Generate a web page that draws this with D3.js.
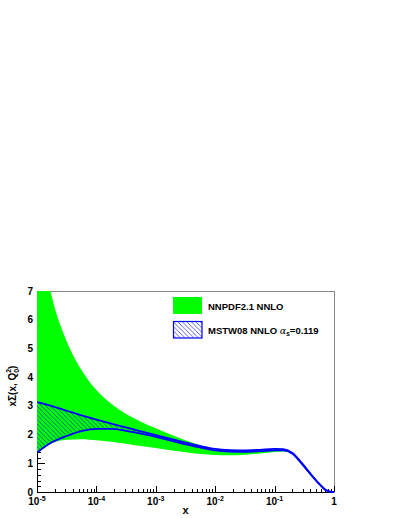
<!DOCTYPE html>
<html lang="en">
<head>
<meta charset="utf-8" />
<title>Singlet PDF</title>
<script src="https://cdn.jsdelivr.net/npm/d3@7"></script>
<style>
  body{ margin:0; background:#fff; font-family:"Liberation Sans", Arial, sans-serif; }
  text{ font-weight:bold; fill:#000; }
</style>
</head>
<body>
<div id="chart"></div>
<script>
  var width = 401, height = 518;

  // x grid (log spaced)
  var xs = [1e-5, 1.41e-5, 1.78e-5, 3.16e-5, 5.62e-5, 1e-4, 1.78e-4, 3.16e-4, 5.62e-4,
            1e-3, 1.78e-3, 3.16e-3, 5.62e-3, 1e-2, 1.78e-2, 3.16e-2, 5.62e-2, 0.1,
            0.141, 0.2, 0.282, 0.398, 0.562, 0.708, 0.891, 1];

  var nnUpper = [9.6, 7.8, 6.8, 5.25, 4.25, 3.55, 3.07, 2.72, 2.45, 2.22, 2.0, 1.8, 1.63,
                 1.51, 1.47, 1.46, 1.47, 1.5, 1.49, 1.36, 1.03, 0.65, 0.29, 0.09, 0.006, 0];
  var nnLower = [1.35, 1.6, 1.7, 1.82, 1.84, 1.8, 1.75, 1.68, 1.6, 1.53, 1.45, 1.38, 1.32,
                 1.29, 1.28, 1.3, 1.34, 1.39, 1.41, 1.32, 1.0, 0.63, 0.28, 0.08, 0.005, 0];
  var msUpper = [3.13, 3.05, 2.99, 2.83, 2.67, 2.52, 2.38, 2.25, 2.11, 1.98, 1.85, 1.72, 1.6,
                 1.5, 1.46, 1.45, 1.47, 1.5, 1.49, 1.36, 1.03, 0.65, 0.29, 0.09, 0.006, 0];
  var msLower = [1.37, 1.6, 1.73, 1.95, 2.12, 2.2, 2.2, 2.13, 2.03, 1.92, 1.79, 1.66, 1.55,
                 1.45, 1.41, 1.4, 1.42, 1.45, 1.45, 1.33, 1.0, 0.63, 0.28, 0.08, 0.005, 0];

  var xDecades = [1e-5, 1e-4, 1e-3, 1e-2, 1e-1, 1];
  var xExp = ["-5", "-4", "-3", "-2", "-1", ""];
  var yTicks = [0, 1, 2, 3, 4, 5, 6, 7];
  var legendNames = ["NNPDF2.1 NNLO", "MSTW08 NNLO "];

  var pLeft = 37, pRight = 334, pTop = 291, pBottom = 492;

  var x = d3.scaleLog().domain([1e-5, 1]).range([pLeft, pRight]);
  var y = d3.scaleLinear().domain([0, 7]).range([pBottom, pTop]);

  var svg = d3.select("#chart").append("svg")
      .attr("width", width)
      .attr("height", height);

  var defs = svg.append("defs");
  defs.append("clipPath").attr("id", "plotclip")
    .append("rect").attr("x", pLeft).attr("y", pTop)
    .attr("width", pRight - pLeft).attr("height", pBottom - pTop + 1);

  var hatch = defs.append("pattern").attr("id", "hatch")
      .attr("patternUnits", "userSpaceOnUse")
      .attr("width", 4.5).attr("height", 4.5);
  hatch.append("path")
      .attr("d", "M-1,-1 L5.5,5.5 M3.5,-1 L5.5,1 M-1,3.5 L1,5.5")
      .attr("stroke", "#1a1ad8").attr("stroke-width", 0.7).attr("fill", "none");

  // axes (drawn first, the bands cover them like in ROOT)
  var ax = svg.append("g");
  ax.append("line").attr("x1", pLeft).attr("x2", pRight).attr("y1", pBottom + 0.5).attr("y2", pBottom + 0.5)
    .attr("stroke", "#000");
  ax.append("line").attr("x1", pLeft + 0.5).attr("x2", pLeft + 0.5).attr("y1", pTop).attr("y2", pBottom)
    .attr("stroke", "#000");
  ax.append("line").attr("x1", pLeft).attr("x2", pRight).attr("y1", pTop + 0.5).attr("y2", pTop + 0.5)
    .attr("stroke", "#888");
  ax.append("line").attr("x1", pRight + 0.5).attr("x2", pRight + 0.5).attr("y1", pTop).attr("y2", pBottom + 1)
    .attr("stroke", "#888");

  // x ticks
  x.ticks().forEach(function(t) {
    var lg = Math.log10(t);
    var major = Math.abs(lg - Math.round(lg)) < 1e-6;
    ax.append("line")
      .attr("x1", Math.round(x(t)) + 0.5).attr("x2", Math.round(x(t)) + 0.5)
      .attr("y1", pBottom).attr("y2", pBottom - (major ? 6 : 3))
      .attr("stroke", "#000");
  });

  // y ticks, 5 divisions per unit
  d3.range(0, 7.001, 0.2).forEach(function(v) {
    var major = Math.abs(v - Math.round(v)) < 1e-6;
    ax.append("line")
      .attr("x1", pLeft).attr("x2", pLeft + (major ? 8 : 4))
      .attr("y1", Math.round(y(v)) + 0.5).attr("y2", Math.round(y(v)) + 0.5)
      .attr("stroke", "#000");
  });

  yTicks.forEach(function(v) {
    ax.append("text").attr("x", pLeft - 4).attr("y", y(v) + 3.5)
      .attr("text-anchor", "end").attr("font-size", 10).text(v);
  });

  xDecades.forEach(function(t, i) {
    var tx = ax.append("text").attr("x", x(t)).attr("y", 505)
      .attr("text-anchor", "middle").attr("font-size", 10);
    if (xExp[i] === "") {
      tx.text("1");
    } else {
      tx.append("tspan").text("10");
      tx.append("tspan").attr("dy", -4).attr("font-size", 7).text(xExp[i]);
    }
  });

  ax.append("text").attr("x", (pLeft + pRight) / 2).attr("y", 514)
    .attr("text-anchor", "middle").attr("font-size", 11).text("x");

  var yt = ax.append("text").attr("transform", "translate(16,386) rotate(-90)")
    .attr("text-anchor", "middle").attr("font-size", 10);
  yt.append("tspan").text("x\u03A3(x, Q");
  yt.append("tspan").attr("dy", 3).attr("font-size", 7).text("0");
  yt.append("tspan").attr("dx", -4).attr("dy", -8).attr("font-size", 7).text("2");
  yt.append("tspan").attr("dy", 5).text(")");

  // bands
  var pts = xs.map(function(d, i) { return i; });
  function band(lo, hi) {
    return d3.area().curve(d3.curveMonotoneX)
      .x(function(i) { return x(xs[i]); })
      .y0(function(i) { return y(lo[i]); })
      .y1(function(i) { return y(hi[i]); });
  }
  function edge(arr) {
    return d3.line().curve(d3.curveMonotoneX)
      .x(function(i) { return x(xs[i]); })
      .y(function(i) { return y(arr[i]); });
  }

  var plot = svg.append("g").attr("clip-path", "url(#plotclip)");
  plot.append("path").attr("d", band(nnLower, nnUpper)(pts)).attr("fill", "#00ff00");
  plot.append("path").attr("d", band(msLower, msUpper)(pts)).attr("fill", "url(#hatch)");
  plot.append("path").attr("d", edge(msUpper)(pts)).attr("fill", "none")
    .attr("stroke", "#0000ff").attr("stroke-width", 1.8);
  plot.append("path").attr("d", edge(msLower)(pts)).attr("fill", "none")
    .attr("stroke", "#0000ff").attr("stroke-width", 1.8);

  // legend
  var lg = svg.append("g");
  lg.append("rect").attr("x", 173).attr("y", 297).attr("width", 29).attr("height", 17)
    .attr("fill", "#00ff00");
  lg.append("rect").attr("x", 173.5).attr("y", 321.5).attr("width", 28.5).attr("height", 16.5)
    .attr("fill", "url(#hatch)").attr("stroke", "#0000ff").attr("stroke-width", 1.2);
  lg.append("text").attr("x", 208).attr("y", 309.5).attr("font-size", 9.5).text(legendNames[0]);
  var t2 = lg.append("text").attr("x", 208).attr("y", 333.5).attr("font-size", 9.5);
  t2.append("tspan").text(legendNames[1]);
  t2.append("tspan").attr("font-weight", "normal").attr("font-family", "DejaVu Serif").attr("font-style", "italic").text("\u03B1");
  t2.append("tspan").attr("dy", 2).attr("font-size", 6.5).text("s");
  t2.append("tspan").attr("dy", -2).text("=0.119");
</script>
</body>
</html>
